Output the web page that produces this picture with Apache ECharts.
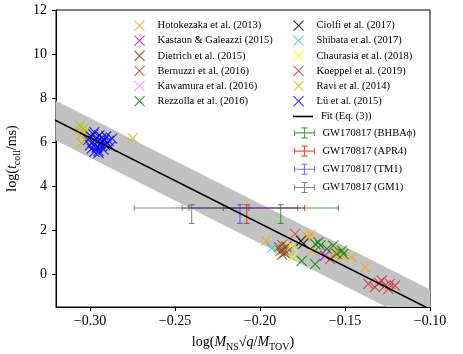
<!DOCTYPE html>
<html><head><meta charset="utf-8">
<script src="https://cdn.jsdelivr.net/npm/echarts@6/dist/echarts.min.js"></script>
<style>html,body{margin:0;padding:0;background:#fff}#c{width:463px;height:354px}</style>
</head><body><div id="c"></div>
<script>
// ---- ticks ----
const xTicks = [-0.30, -0.25, -0.20, -0.15, -0.10];
const yTicks = [0, 2, 4, 6, 8, 10, 12];

// ---- scatter data [x, y] ----
const hotokezaka = [[-0.1965,1.51],[-0.1716,1.67],[-0.1700,1.80],[-0.1696,1.06],[-0.1560,1.00],[-0.1530,0.90],[-0.1520,0.83],[-0.1461,0.76],[-0.1382,0.30]];
const kastaun = [[-0.1618,0.83]];
const dietrich = [[-0.1890,1.22],[-0.1880,1.05],[-0.1870,1.32],[-0.1862,1.12],[-0.1855,0.95],[-0.1845,1.25],[-0.1835,1.05],[-0.1870,0.88]];
const bernuzzi = [[-0.1794,1.82],[-0.1588,0.68]];
const kawamura = [[-0.1625,1.00]];
const rezzolla = [[-0.1755,0.60],[-0.1676,0.45],[-0.1674,1.36],[-0.1657,1.44],[-0.1645,1.30],[-0.1606,1.14],[-0.1569,1.29],[-0.1549,0.91],[-0.1518,1.06],[-0.1510,0.91]];
const ciolfi = [[-0.1759,1.51],[-0.1745,1.38]];
const shibata = [[-0.1931,1.18]];
const chaurasia = [[-0.1814,1.28],[-0.1804,0.80]];
const koeppel = [[-0.1363,-0.45],[-0.1324,-0.60],[-0.1300,-0.40],[-0.1284,-0.30],[-0.1265,-0.53],[-0.1245,-0.68],[-0.1235,-0.45],[-0.1206,-0.53]];
const ravi = [[-0.3070,6.55],[-0.3060,6.75],[-0.3050,6.35],[-0.3040,6.60],[-0.3030,6.10],[-0.3020,6.45],[-0.3050,5.95],[-0.3010,6.30],[-0.2749,6.17]];
const lu = [[-0.3010,6.10],[-0.3000,5.85],[-0.2995,6.25],[-0.2990,5.70],[-0.2985,6.00],[-0.2980,6.35],[-0.2975,5.55],[-0.2970,5.90],[-0.2965,6.15],[-0.2960,5.75],[-0.2955,6.05],[-0.2950,5.60],[-0.2945,6.30],[-0.2940,5.95],[-0.2935,5.80],[-0.2930,6.20],[-0.2925,6.00],[-0.2920,5.65],[-0.2915,6.10],[-0.2910,5.85],[-0.2905,6.25],[-0.2900,5.95],[-0.2890,6.05],[-0.2880,5.80],[-0.2870,6.15],[-0.2975,6.45],[-0.2950,5.50]];

// ---- fit line and band ----
const fitX = [-0.33, -0.09];
const fitY = [7.36, -1.99];
const bandLow = [6.46, -2.89];
const bandHigh = [8.26, -1.09];

// ---- GW170817 error bars: [x, y, xerr, yerrLow, yerrHigh] ----
const gwBHBA = [[-0.1878, 3.0, 0.0338, 0.70, 0.15]];
const gwAPR4 = [[-0.2078, 3.0, 0.0340, 0.70, 0.15]];
const gwTM1 = [[-0.2118, 3.0, 0.0340, 0.70, 0.15]];
const gwGM1 = [[-0.2402, 3.0, 0.0338, 0.70, 0.15]];

const scatterNames = ['Hotokezaka et al. (2013)','Kastaun & Galeazzi (2015)','Dietrich et al. (2015)','Bernuzzi et al. (2016)','Kawamura et al. (2016)','Rezzolla et al. (2016)','Ciolfi et al. (2017)','Shibata et al. (2017)','Chaurasia et al. (2018)','Koeppel et al. (2019)','Ravi et al. (2014)','Lü et al. (2015)'];
const scatterData = [hotokezaka,kastaun,dietrich,bernuzzi,kawamura,rezzolla,ciolfi,shibata,chaurasia,koeppel,ravi,lu];
const scatterColors = ['#ffa500','#bf00bf','#8b4a1c','#f03030','#ee82ee','#008000','#000000','#20c8d0','#ffff00','#d62728','#bfbf00','#0000ff'];
const gwNames = ['GW170817 (BHBAϕ)','GW170817 (APR4)','GW170817 (TM1)','GW170817 (GM1)'];
const gwData = [gwBHBA, gwAPR4, gwTM1, gwGM1];
const gwColors = ['#008000','#ff0000','#3a3aff','#555555'];

const FONT = 'Liberation Serif';
const XPATH = 'path://M0,0L10,10M0,10L10,0';
const ERRPATH = 'path://M0,6L20,6M0,3L0,9M20,3L20,9M10,1L10,11M7,1L13,1M7,11L13,11';
const LINEPATH = 'path://M0,4.2L20,4.2L20,5.8L0,5.8Z';

const chart = echarts.init(document.getElementById('c'), null, {renderer:'canvas'});

const series = [];
series.push({
  type:'custom', name:'band', silent:true, clip:true, z:1,
  data:[0],
  renderItem:function(params, api){
    const p = [api.coord([fitX[0],bandLow[0]]), api.coord([fitX[1],bandLow[1]]), api.coord([fitX[1],bandHigh[1]]), api.coord([fitX[0],bandHigh[0]])];
    return {type:'polygon', shape:{points:p}, style:{fill:'#c2c2c2'}};
  }
});
scatterNames.forEach((n,i)=>{
  series.push({type:'scatter', name:n, data:scatterData[i], symbol:XPATH, symbolSize:10, z:3,
    itemStyle:{color:scatterColors[i], borderColor:scatterColors[i], borderWidth:1.1}, emphasis:{disabled:true}});
});
series.push({type:'line', name:'Fit (Eq. (3))', data:[[fitX[0],fitY[0]],[fitX[1],fitY[1]]], symbol:'none', z:4,
  lineStyle:{color:'#000', width:1.6}, itemStyle:{color:'#000'}});
gwNames.forEach((n,i)=>{
  series.push({type:'custom', name:n, data:gwData[i], z:2, clip:true,
    itemStyle:{color:gwColors[i]},
    renderItem:function(params, api){
      const x=api.value(0), y=api.value(1), xe=api.value(2), ylo=api.value(3), yhi=api.value(4);
      const l=api.coord([x-xe,y]), r=api.coord([x+xe,y]);
      const b=api.coord([x,y-ylo]), t=api.coord([x,y+yhi]);
      const cap=3;
      const st={stroke:gwColors[i], lineWidth:1.1, opacity:0.7};
      const L=(x1,y1,x2,y2)=>({type:'line', shape:{x1,y1,x2,y2}, style:st});
      return {type:'group', children:[
        L(l[0],l[1],r[0],r[1]), L(l[0],l[1]-cap,l[0],l[1]+cap), L(r[0],r[1]-cap,r[0],r[1]+cap),
        L(b[0],b[1],t[0],t[1]), L(b[0]-cap,b[1],b[0]+cap,b[1]), L(t[0]-cap,t[1],t[0]+cap,t[1])
      ]};
    }
  });
});

const legText = {fontFamily:FONT, fontSize:10.5, color:'#000', lineHeight:10, padding:[0,0,0,3]};
const legBase = {orient:'vertical', itemWidth:20, itemHeight:10, itemGap:4.0, selectedMode:false, padding:0, textStyle:legText,
  itemStyle:{borderWidth:1.1}};

chart.setOption({
  animation:false,
  backgroundColor:'#fff',
  grid:{left:56, right:33, top:10, bottom:47, show:true, borderColor:'#000', borderWidth:1, backgroundColor:'transparent', containLabel:false, outerBoundsMode:'none'},
  xAxis:{type:'value', min:-0.32, max:-0.10,
    axisLine:{show:true, onZero:false, lineStyle:{color:'#000'}},
    axisTick:{show:true, length:4, lineStyle:{color:'#000'}, customValues:xTicks},
    axisLabel:{customValues:xTicks, fontFamily:FONT, fontSize:14, color:'#000', margin:7,
      formatter:v=>(v<0?'\u2212':'')+Math.abs(v).toFixed(2)},
    splitLine:{show:false},
    name:'{a|log(}{i|M}{s|NS}{a|\u221A}{i|q}{a|/}{i|M}{s|TOV}{a|)}', nameLocation:'middle', nameGap:25,
    nameTextStyle:{rich:{
      a:{fontFamily:FONT, fontSize:14, color:'#000', lineHeight:20},
      i:{fontFamily:FONT, fontSize:14, fontStyle:'italic', color:'#000', lineHeight:20},
      s:{fontFamily:FONT, fontSize:10, color:'#000', lineHeight:10, verticalAlign:'bottom'}
    }}
  },
  yAxis:{type:'value', min:-1.5, max:12,
    axisLine:{show:true, onZero:false, lineStyle:{color:'#000'}},
    axisTick:{show:true, length:4, lineStyle:{color:'#000'}, customValues:yTicks},
    axisLabel:{customValues:yTicks, fontFamily:FONT, fontSize:14, color:'#000', margin:9},
    splitLine:{show:false},
    name:'{a|log(}{i|t}{s|coll}{a|/ms)}', nameLocation:'middle', nameGap:30, nameRotate:90,
    nameTextStyle:{rich:{
      a:{fontFamily:FONT, fontSize:14, color:'#000', lineHeight:20},
      i:{fontFamily:FONT, fontSize:14, fontStyle:'italic', color:'#000', lineHeight:20},
      s:{fontFamily:FONT, fontSize:10, color:'#000', lineHeight:10, verticalAlign:'bottom'}
    }}
  },
  legend:[
    Object.assign({}, legBase, {left:134, top:20, data:scatterNames.slice(0,6)}),
    Object.assign({}, legBase, {left:293, top:20, data:scatterNames.slice(6,12)}),
    Object.assign({}, legBase, {left:293, top:111, data:[{name:'Fit (Eq. (3))', icon:LINEPATH, itemStyle:{color:'#000', borderWidth:0}}]}),
    Object.assign({}, legBase, {left:292, top:125.4, itemHeight:12, itemGap:3.2,
      textStyle:Object.assign({}, legText, {lineHeight:12}),
      data:gwNames.map((n,i)=>({name:n, icon:ERRPATH, itemStyle:{color:'none', borderColor:gwColors[i], borderWidth:1.1, opacity:0.7}}))})
  ],
  series:series
});
</script></body></html>
